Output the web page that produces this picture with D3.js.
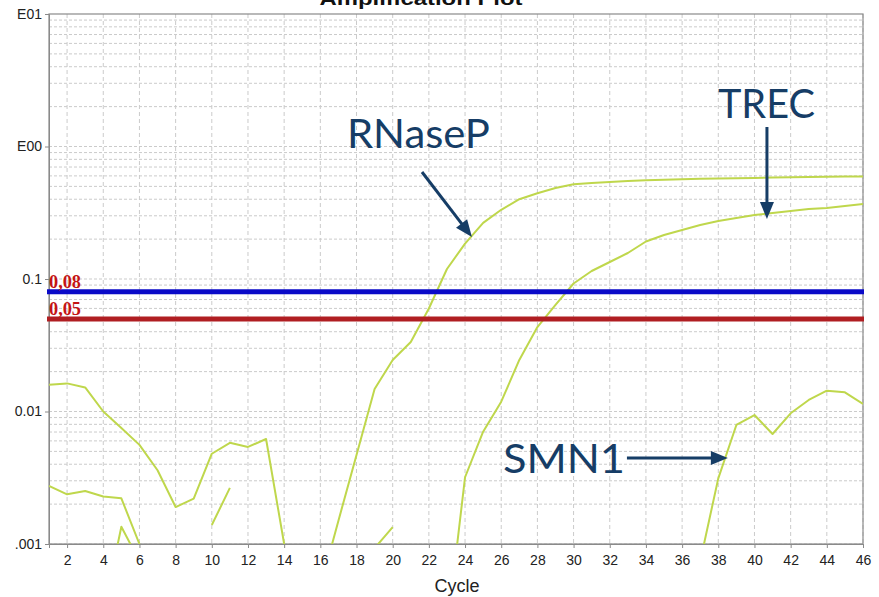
<!DOCTYPE html>
<html>
<head>
<meta charset="utf-8">
<script src="https://cdn.jsdelivr.net/npm/d3@7"></script>
<style>
  html, body { margin: 0; padding: 0; background: #ffffff; }
  svg { display: block; }
</style>
</head>
<body>
<script>
// ---------------- DATA ----------------
const cycles = [1,2,3,4,5,6,7,8,9,10,11,12,13,14,15,16,17,18,19,20,21,22,23,24,25,26,27,28,29,30,31,32,33,34,35,36,37,38,39,40,41,42,43,44,45,46];

const rnasePValues = [0.0159,0.0163,0.0152,0.0100,0.0075,0.0056,0.0036,0.0019,0.0022,0.0048,
  0.0058,0.0054,0.0062,0.0010,null,0.00047,0.0015,0.0047,0.0148,0.0245,
  0.0335,0.0599,0.119,0.185,0.265,0.333,0.400,0.444,0.486,0.519,
  0.530,0.540,0.549,0.556,0.562,0.566,0.570,0.573,0.576,0.579,
  0.583,0.586,0.589,0.591,0.593,0.595];

const trecValues = [0.00274,0.00237,0.00251,0.00228,0.00221,0.0010,null,null,null,null,
  null,null,null,null,null,null,null,null,0.00093,0.00134,
  null,null,0.00022,0.00319,0.00704,0.01186,0.0245,0.0434,0.0637,0.0925,
  0.1149,0.1344,0.1571,0.1919,0.2148,0.2344,0.2555,0.2740,0.2887,0.3041,
  0.3148,0.3261,0.3375,0.3433,0.3556,0.3681];

const smn1Values = [null,null,null,0.0003,0.00135,0.00074,null,null,null,0.00139,
  0.00265,null,null,null,null,null,null,null,null,null,
  null,null,null,null,null,null,null,null,null,null,
  null,null,null,null,null,null,0.00074,0.00313,0.00791,0.0094,
  0.00676,0.00969,0.01222,0.01436,0.01396,0.0114];

const seriesNames = ["RNaseP","TREC","SMN1"];

const xTickValues = [2,4,6,8,10,12,14,16,18,20,22,24,26,28,30,32,34,36,38,40,42,44,46];
const yTickValues = [0.001,0.01,0.1,1,10];
const yTickLabels = [".001","0.01","0.1","E00","E01"];

const thresholdValues = [0.08,0.05];
const thresholdLabels = ["0,08","0,05"];

// annotation anchors in data units (cycle, fluorescence)
const annotationLabels = ["RNaseP","TREC","SMN1"];
const annotationTextAt = [[17.47,0.974],[37.98,1.641],[26.10,0.003435]];
const annotationArrowFrom = [[21.62,0.642],[40.69,1.403],[32.95,0.004457]];
const annotationArrowTo = [[24.38,0.2075],[40.69,0.2838],[38.53,0.004457]];

const titleText = "Amplification Plot";
const xAxisTitle = "Cycle";

// ---------------- LAYOUT / STYLE ----------------
const W = 879, H = 597;
const plot = {left: 49, right: 863, top: 14, bottom: 544};
const curveColor = "#bfd74c";
const thresholdColors = ["#0a0ac8","#b01e22"];
const thresholdLabelColor = "#c41414";
const annColor = "#163d66";
const gridColor = "#cbcbcb";

const svg = d3.select("body").append("svg").attr("width", W).attr("height", H);

const x = d3.scaleLinear().domain([1,46]).range([plot.left, plot.right]);
const y = d3.scaleLog().domain([0.001,10]).range([plot.bottom, plot.top]);

svg.append("defs").append("clipPath").attr("id","plotclip")
  .append("rect").attr("x", plot.left).attr("y", plot.top)
  .attr("width", plot.right - plot.left).attr("height", plot.bottom - plot.top);

// Title (cropped at the top of the picture, as in the reference)
svg.append("text")
  .attr("x", 421).attr("y", 5)
  .attr("text-anchor","middle")
  .attr("font-family","'Liberation Sans', Arial, sans-serif")
  .attr("font-weight","bold").attr("font-size", 19)
  .attr("textLength", 203).attr("lengthAdjust","spacingAndGlyphs")
  .attr("fill","#111")
  .text(titleText);

// Grid
const gridG = svg.append("g");
const minorVals = [];
yTickValues.slice(0, -1).forEach(d => { for (let m = 1; m <= 9; m++) minorVals.push(d * m); });
gridG.selectAll("line.hg").data(minorVals).join("line")
  .attr("x1", plot.left).attr("x2", plot.right)
  .attr("y1", d => y(d)).attr("y2", d => y(d))
  .attr("stroke", gridColor).attr("stroke-width", 1).attr("stroke-dasharray","3,2");
gridG.selectAll("line.vg").data(xTickValues).join("line")
  .attr("x1", d => x(d)).attr("x2", d => x(d))
  .attr("y1", plot.top).attr("y2", plot.bottom)
  .attr("stroke", gridColor).attr("stroke-width", 1).attr("stroke-dasharray","4,3");

// Frame
svg.append("rect")
  .attr("x", plot.left).attr("y", plot.top)
  .attr("width", plot.right - plot.left).attr("height", plot.bottom - plot.top)
  .attr("fill","none").attr("stroke","#8a8a8a").attr("stroke-width",1.2);

// Axes
const axisFont = "'Liberation Sans Narrow', 'Liberation Sans', Arial, sans-serif";
const yAxis = svg.append("g").attr("transform", `translate(${plot.left},0)`)
  .call(d3.axisLeft(y).tickValues(yTickValues).tickSize(4).tickPadding(3)
    .tickFormat((d,i) => yTickLabels[i]));
const xAxis = svg.append("g").attr("transform", `translate(0,${plot.bottom})`)
  .call(d3.axisBottom(x).tickValues(xTickValues).tickSize(4).tickPadding(7));
[yAxis, xAxis].forEach(g => {
  g.select(".domain").attr("stroke","#8a8a8a");
  g.selectAll(".tick line").attr("stroke","#8a8a8a");
  g.selectAll(".tick text").attr("font-family", axisFont).attr("font-size", 14).attr("fill","#222");
});

svg.append("text")
  .attr("x", 457).attr("y", 592)
  .attr("text-anchor","middle")
  .attr("font-family", axisFont).attr("font-size", 18).attr("fill","#222")
  .text(xAxisTitle);

// Curves
const seriesValues = [rnasePValues, trecValues, smn1Values];
const line = d3.line()
  .defined(d => d.v != null)
  .x(d => x(d.c)).y(d => y(d.v));
const curveG = svg.append("g").attr("clip-path","url(#plotclip)");
curveG.selectAll("path").data(seriesValues).join("path")
  .attr("d", vals => line(cycles.map((c,i) => ({c, v: vals[i]}))))
  .attr("fill","none").attr("stroke", curveColor).attr("stroke-width", 2)
  .attr("stroke-linejoin","round");

// Thresholds
const thrG = svg.append("g");
thrG.selectAll("line").data(thresholdValues).join("line")
  .attr("x1", plot.left - 2).attr("x2", plot.right + 1)
  .attr("y1", d => y(d)).attr("y2", d => y(d))
  .attr("stroke", (d,i) => thresholdColors[i]).attr("stroke-width", 5);
thrG.selectAll("text").data(thresholdValues).join("text")
  .attr("x", plot.left).attr("y", d => y(d) - 4)
  .attr("font-family","'Liberation Serif', 'Times New Roman', serif")
  .attr("font-weight","bold").attr("font-size", 19)
  .attr("textLength", 32).attr("lengthAdjust","spacingAndGlyphs")
  .attr("fill", thresholdLabelColor)
  .text((d,i) => thresholdLabels[i]);

// Annotations
const annG = svg.append("g");
const annWidths = [143, 97, 122];
annotationLabels.forEach((lab, i) => {
  const [tc, tv] = annotationTextAt[i];
  annG.append("text")
    .attr("x", x(tc)).attr("y", y(tv))
    .attr("font-family","Lato, 'Open Sans', sans-serif")
    .attr("font-size", 40).attr("fill", annColor)
    .attr("textLength", annWidths[i]).attr("lengthAdjust","spacingAndGlyphs")
    .text(lab);
  const x1 = x(annotationArrowFrom[i][0]), y1 = y(annotationArrowFrom[i][1]);
  const x2 = x(annotationArrowTo[i][0]), y2 = y(annotationArrowTo[i][1]);
  const ang = Math.atan2(y2 - y1, x2 - x1);
  const headL = 17, headW = 7;
  const bx = x2 - headL * Math.cos(ang), by = y2 - headL * Math.sin(ang);
  annG.append("line")
    .attr("x1", x1).attr("y1", y1).attr("x2", bx + 2 * Math.cos(ang)).attr("y2", by + 2 * Math.sin(ang))
    .attr("stroke", annColor).attr("stroke-width", 3);
  const px = -Math.sin(ang), py = Math.cos(ang);
  annG.append("path")
    .attr("d", `M${x2},${y2}L${bx + headW * px},${by + headW * py}L${bx - headW * px},${by - headW * py}Z`)
    .attr("fill", annColor);
});
</script>
</body>
</html>
